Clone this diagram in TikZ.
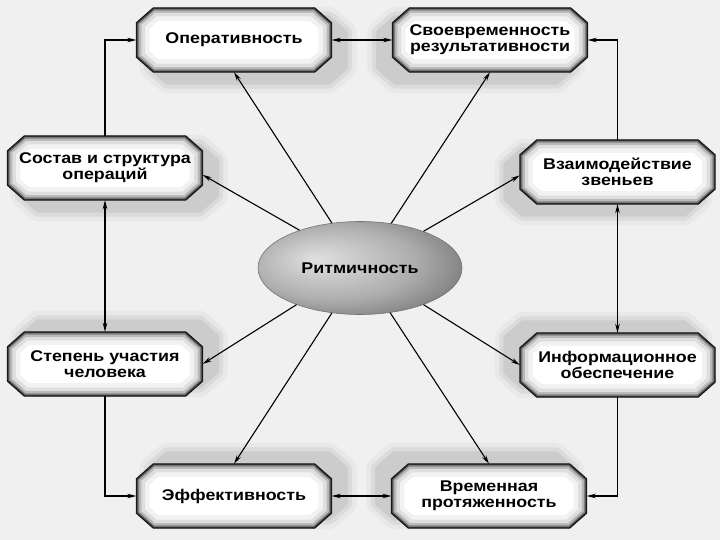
\documentclass[tikz,border=0pt]{standalone}
\usepackage{fontspec}
\setmainfont{Liberation Sans}[FakeStretch=1.15]
\usetikzlibrary{arrows.meta,calc,shapes.geometric}
\pgfdeclarelayer{bgl}
\pgfdeclarelayer{shad}
\pgfdeclarelayer{octl}
\pgfsetlayers{bgl,shad,octl,main}
\definecolor{bgc}{RGB}{240,240,240}
\pgfdeclareradialshading{ritm}{\pgfpoint{-11bp}{5bp}}{color(0bp)=(black!12); color(10bp)=(black!22); color(20bp)=(black!32); color(28bp)=(black!45); color(36bp)=(black!60); color(50bp)=(black!72)}
\newcommand\octagon[2]{\path[#1] ($(#2.north west)+(17pt,0pt)$) -- ($(#2.north east)+(-17pt,0pt)$) -- ($(#2.north east)+(0pt,-15pt)$) -- ($(#2.south east)+(0pt,15pt)$) -- ($(#2.south east)+(-17pt,0pt)$) -- ($(#2.south west)+(17pt,0pt)$) -- ($(#2.south west)+(0pt,15pt)$) -- ($(#2.north west)+(0pt,-15pt)$) -- cycle;}
\newcommand\drawoct[1]{%
  \begin{scope}
    \octagon{clip}{#1}
    \octagon{fill=white}{#1}
    \octagon{draw=black!5, line width=26pt}{#1}
    \octagon{draw=black!13, line width=17pt}{#1}
    \octagon{draw=black!27, line width=10pt}{#1}
    \octagon{draw=black!50, line width=5.5pt}{#1}
    \octagon{draw=black!78, line width=2.8pt}{#1}
  \end{scope}
  \octagon{draw=black!90, line width=1pt}{#1}
}
\newcommand\drawshad[3]{%
  \begin{scope}[transform canvas={shift={(#2pt,#3pt)}}]
    \octagon{fill=black!9, draw=black!9, line width=22pt, line join=round}{#1}
    \octagon{fill=black!14, draw=black!14, line width=13pt, line join=round}{#1}
    \octagon{fill=black!20, draw=black!20, line width=5pt, line join=round}{#1}
  \end{scope}
}
\begin{document}
\begin{tikzpicture}[x=1pt,y=-1pt,
  lbl/.style={rectangle, minimum width=195pt, minimum height=64pt, inner sep=0pt, align=center, font=\bfseries\fontsize{15.5}{16}\selectfont},
  arr/.style={-{Stealth[length=9pt,width=4.5pt]}, line width=1.1pt},
  arrb/.style={{Stealth[length=9pt,width=4.5pt]}-{Stealth[length=9pt,width=4.5pt]}, line width=1.1pt}]
\begin{pgfonlayer}{bgl}
  \fill[bgc] (0,0) rectangle (720,540);
\end{pgfonlayer}
\useasboundingbox (0,0) rectangle (720,540);

\node[lbl] (oper) at (234,40) {Оперативность};
\node[lbl] (svo)  at (490,40) {Своевременность\\результативности};
\node[lbl] (sost) at (105,168) {Состав и структура\\операций};
\node[lbl] (vz)   at (617.5,172) {Взаимодействие\\звеньев};
\node[lbl] (step) at (105,364) {Степень участия\\человека};
\node[lbl] (inf)  at (617.5,365) {Информационное\\обеспечение};
\node[lbl] (eff)  at (234,496) {Эффективность};
\node[lbl] (vrem) at (489,496) {Временная\\протяженность};

\node[ellipse, minimum width=204pt, minimum height=93pt, inner sep=0pt, draw=black!55, line width=0.6pt, shade, shading=ritm, font=\bfseries\fontsize{15.5}{16}\selectfont] (r) at (360,268) {Ритмичность};

\begin{pgfonlayer}{shad}
  \drawshad{oper}{14}{-10}
  \drawshad{svo}{-14}{-10}
  \drawshad{sost}{14}{-10}
  \drawshad{vz}{-14}{-10}
  \drawshad{step}{14}{10}
  \drawshad{inf}{-14}{10}
  \drawshad{eff}{14}{10}
  \drawshad{vrem}{-14}{10}
\end{pgfonlayer}
\begin{pgfonlayer}{octl}
  \drawoct{oper}
  \drawoct{svo}
  \drawoct{sost}
  \drawoct{vz}
  \drawoct{step}
  \drawoct{inf}
  \drawoct{eff}
  \drawoct{vrem}
\end{pgfonlayer}

\draw[arr] (sost.north) |- (oper.west);
\draw[arrb] (sost.south) -- (step.north);
\draw[arr] (step.south) |- (eff.west);
\draw[arrb] (oper.east) -- (svo.west);
\draw[arr] (vz.north) |- (svo.east);
\draw[arrb] (vz.south) -- (inf.north);
\draw[arr] (inf.south) |- (vrem.east);
\draw[arrb] (eff.east) -- (vrem.west);

\draw[arr] (r.122) -- (oper.south);
\draw[arr] (r.55) -- (svo.south);
\draw[arr] (r.148) -- (sost.-4);
\draw[arr] (r.30) -- (vz.182);
\draw[arr] (r.210) -- (step.east);
\draw[arr] (r.330) -- (inf.west);
\draw[arr] (r.238) -- (eff.north);
\draw[arr] (r.304) -- (vrem.north);
\end{tikzpicture}
\end{document}
